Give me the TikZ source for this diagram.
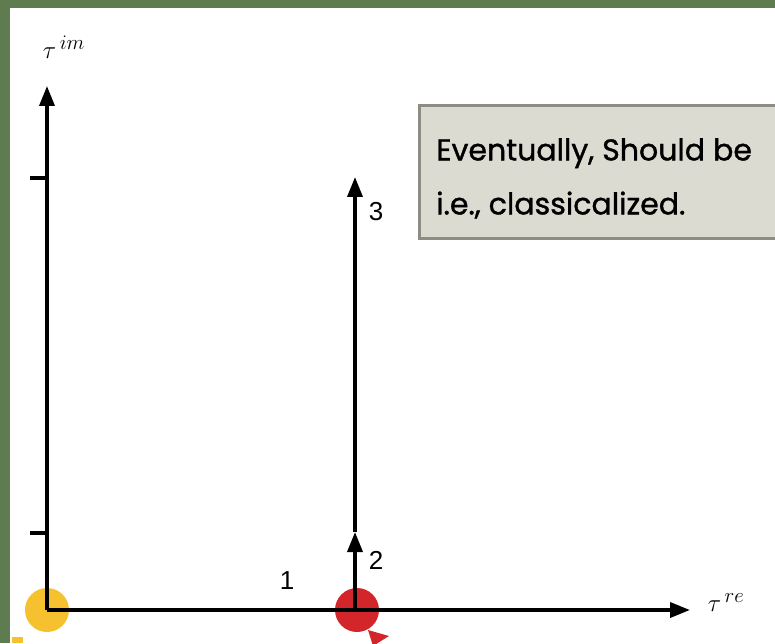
\documentclass[tikz,border=0pt]{standalone}
\usepackage{fontspec}
\setsansfont{Liberation Sans}
\newfontfamily\notefont[FakeBold=1.2]{Poppins}
\usetikzlibrary{arrows.meta,positioning}
\definecolor{framegreen}{HTML}{5F7B50}
\definecolor{dotyellow}{HTML}{F5C12E}
\definecolor{dotred}{HTML}{D3262B}
\definecolor{notegray}{HTML}{DCDBD2}
\definecolor{noteedge}{HTML}{8E8D84}
\tikzset{
  axis/.style={line width=3.6pt, -{Triangle[length=20pt,width=15pt]}},
  path/.style={line width=3.6pt},
  lbl/.style={font=\sffamily\fontsize{26}{28}\selectfont, inner sep=0pt},
  note/.style={font=\notefont\fontsize{30}{54}\selectfont, align=left, anchor=north west, inner sep=0pt}
}
\begin{document}
\begin{tikzpicture}[x=1pt, y=1pt]
  % рамка и фон
  \useasboundingbox (0,0) rectangle (775,643);
  \fill[framegreen] (0,0) rectangle (775,643);
  \fill[white] (10,0) rectangle (775,635);
  % точки и оси
  \coordinate (O)   at (47,33);
  \coordinate (Im)  at (47,557);
  \coordinate (Re)  at (690,33);
  \coordinate (P)   at (355,33);
  \coordinate (Pm)  at (355,111);
  \coordinate (Pt)  at (355,466);
  \coordinate (T1)  at (47,465);
  \coordinate (T1l) at (30,465);
  \coordinate (T2)  at (47,110);
  \coordinate (T2l) at (30,110);
  % цветные кружки
  \fill[dotyellow] (O) circle (22);
  \fill[dotred] ([xshift=2pt]P) circle (22);
  \fill[dotred] (368,13) -- (389,7) -- (373,-3) -- cycle;
  \fill[dotyellow] (12,0) rectangle (23,6);
  % оси
  \draw[axis] (O) -- (Im);
  \draw[axis] (O) -- (Re);
  \draw[path] (T1l) -- (T1);
  \draw[path] (T2l) -- (T2);
  % путь 1-2-3
  \draw[axis] (P) -- (Pm);
  \draw[axis] (Pm) -- (Pt);
  \node[lbl] (n1) at (287,62) {1};
  \node[lbl] (n2) at (376,83) {2};
  \node[lbl] (n3) at (376,431) {3};
  \node[font=\fontsize{28}{30}\selectfont] (lim) at (64,596) {$\tau^{\,im}$};
  \node[font=\fontsize{28}{30}\selectfont] (lre) at (726,40) {$\tau^{\,re}$};
  % заметка
  \fill[notegray, draw=noteedge, line width=3pt] (419,404) rectangle (800,537);
  \node[note] (txt) at (436,505) {Eventually, Should be\\i.e., classicalized.};
\end{tikzpicture}
\end{document}
